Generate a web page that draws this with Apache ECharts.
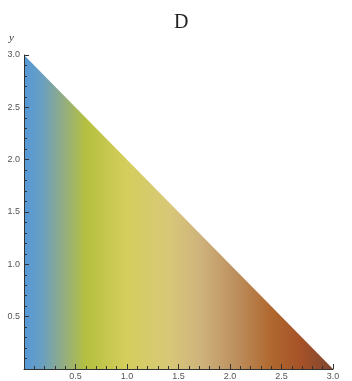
<!DOCTYPE html>
<html>
<head>
<meta charset="utf-8">
<script src="https://cdn.jsdelivr.net/npm/echarts@6/dist/echarts.min.js"></script>
<style>html,body{margin:0;padding:0;background:#fff}#c{width:352px;height:381px}</style>
</head>
<body>
<div id="c"></div>
<script>
// Region boundary: y = 3 - x, for 0 <= x <= 3
const xValues = [0, 3];
const yValues = [3, 0];
const xTicks = ['0.5', '1.0', '1.5', '2.0', '2.5', '3.0'];
const yTicks = ['0.5', '1.0', '1.5', '2.0', '2.5', '3.0'];
const gradientStops = [
  [0.00, '#5598d8'],
  [0.06, '#6a9fc0'],
  [0.12, '#8fab8a'],
  [0.20, '#b5c03f'],
  [0.33, '#d4ce5c'],
  [0.47, '#d8c878'],
  [0.57, '#cfb37c'],
  [0.68, '#bd9160'],
  [0.80, '#b0682e'],
  [0.90, '#a55128'],
  [1.00, '#7e4630']
];

const chart = echarts.init(document.getElementById('c'), null, {renderer: 'canvas'});
const lblFont = {color: '#555', fontSize: 9, fontFamily: 'Liberation Sans'};
chart.setOption({
  animation: false,
  title: {
    text: 'D', left: 169, top: 8,
    textStyle: {fontFamily: 'Liberation Serif', fontWeight: 'normal', fontSize: 20, color: '#222'}
  },
  grid: {left: 24, right: 19, top: 55, bottom: 11, containLabel: false},
  xAxis: {
    type: 'value', min: 0, max: 3, interval: 0.5, z: 5,
    axisLine: {show: true, onZero: false, lineStyle: {color: '#333', width: 1}},
    axisTick: {show: true, inside: true, length: 5, lineStyle: {color: '#333'}},
    minorTick: {show: true, splitNumber: 5, length: 3, lineStyle: {color: '#333'}},
    splitLine: {show: false},
    axisLabel: Object.assign({margin: 3, formatter: function (v) {
      const i = Math.round(v / 0.5) - 1; return i >= 0 ? xTicks[i] : '';
    }}, lblFont)
  },
  yAxis: {
    type: 'value', min: 0, max: 3, interval: 0.5, z: 5,
    name: 'y', nameLocation: 'end', nameGap: 11,
    nameTextStyle: {fontStyle: 'italic', fontFamily: 'Liberation Serif', fontSize: 11, color: '#333', align: 'right', padding: [0, 10, 0, 0]},
    axisLine: {show: true, onZero: false, lineStyle: {color: '#333', width: 1}},
    axisTick: {show: true, inside: true, length: 5, lineStyle: {color: '#333'}},
    minorTick: {show: true, splitNumber: 5, length: 3, lineStyle: {color: '#333'}},
    splitLine: {show: false},
    axisLabel: Object.assign({margin: 4, formatter: function (v) {
      const i = Math.round(v / 0.5) - 1; return i >= 0 ? yTicks[i] : '';
    }}, lblFont)
  },
  series: [{
    type: 'line',
    data: xValues.map((x, i) => [x, yValues[i]]),
    symbol: 'none',
    lineStyle: {width: 0},
    areaStyle: {
      opacity: 1,
      origin: 'start',
      color: new echarts.graphic.LinearGradient(0, 0, 1, 0,
        gradientStops.map(s => ({offset: s[0], color: s[1]})))
    },
    z: 1
  }]
});
</script>
</body>
</html>
